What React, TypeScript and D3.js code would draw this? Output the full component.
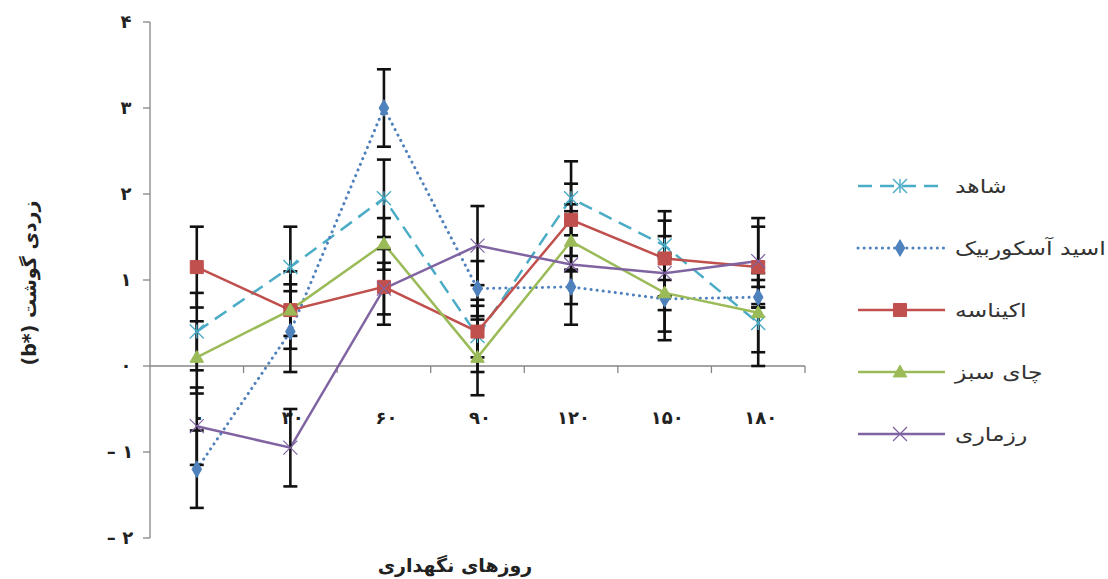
import React from "react";
import * as d3 from "d3";

const days = ["۰", "۳۰", "۶۰", "۹۰", "۱۲۰", "۱۵۰", "۱۸۰"];
const yTicks = [-2, -1, 0, 1, 2, 3, 4];
const yTickLabels = ["– ۲", "– ۱", "۰", "۱", "۲", "۳", "۴"];

const control = [0.4, 1.15, 1.95, 0.35, 1.95, 1.4, 0.5];
const controlErr = [0.45, 0.47, 0.45, 0.42, 0.43, 0.4, 0.5];
const ascorbic = [-1.2, 0.4, 3.0, 0.9, 0.92, 0.78, 0.8];
const ascorbicErr = [0.45, 0.47, 0.45, 0.32, 0.2, 0.48, 0.12];
const echinacea = [1.15, 0.65, 0.92, 0.4, 1.7, 1.25, 1.15];
const echinaceaErr = [0.47, 0.45, 0.44, 0.3, 0.42, 0.44, 0.47];
const greenTea = [0.1, 0.65, 1.42, 0.1, 1.45, 0.85, 0.62];
const greenTeaErr = [0.42, 0.3, 0.3, 0.44, 0.35, 0.45, 0.46];
const rosemary = [-0.7, -0.95, 0.9, 1.4, 1.18, 1.08, 1.22];
const rosemaryErr = [0.45, 0.45, 0.3, 0.46, 0.7, 0.43, 0.5];

const seriesNames = ["شاهد", "اسید آسکوربیک", "اکیناسه", "چای سبز", "رزماری"];

const series = [
  { name: seriesNames[0], values: control, err: controlErr, color: "#4BACC6", dash: "14 8", marker: "asterisk" },
  { name: seriesNames[1], values: ascorbic, err: ascorbicErr, color: "#4F81BD", dash: "0.1 6", marker: "diamond" },
  { name: seriesNames[2], values: echinacea, err: echinaceaErr, color: "#C0504D", dash: null, marker: "square" },
  { name: seriesNames[3], values: greenTea, err: greenTeaErr, color: "#9BBB59", dash: null, marker: "triangle" },
  { name: seriesNames[4], values: rosemary, err: rosemaryErr, color: "#8064A2", dash: null, marker: "x" },
];

const font = "'DejaVu Sans', sans-serif";

function Marker({ type, x, y, color }) {
  if (type === "square") {
    return <path d={d3.symbol(d3.symbolSquare, 170)()} transform={`translate(${x},${y})`} fill={color} stroke={color} />;
  }
  if (type === "diamond") {
    return <path d={d3.symbol(d3.symbolDiamond, 80)()} transform={`translate(${x},${y})`} fill={color} stroke={color} />;
  }
  if (type === "triangle") {
    return <path d={d3.symbol(d3.symbolTriangle, 80)()} transform={`translate(${x},${y + 1})`} fill={color} stroke={color} />;
  }
  if (type === "x") {
    const r = 7;
    return (
      <g stroke={color} strokeWidth={1.2}>
        <line x1={x - r} y1={y - r} x2={x + r} y2={y + r} />
        <line x1={x - r} y1={y + r} x2={x + r} y2={y - r} />
      </g>
    );
  }
  const r = 7;
  return (
    <g stroke={color} strokeWidth={1.4}>
      <line x1={x - r} y1={y - r} x2={x + r} y2={y + r} />
      <line x1={x - r} y1={y + r} x2={x + r} y2={y - r} />
      <line x1={x} y1={y - r} x2={x} y2={y + r} />
    </g>
  );
}

export default function App() {
  const width = 1108,
    height = 579;
  const x = d3.scaleBand().domain(days).range([150, 805]);
  const y = d3.scaleLinear().domain([-2, 4]).range([538, 22]);
  const cx = (d) => x(d) + x.bandwidth() / 2;

  const line = d3
    .line()
    .x((d, i) => cx(days[i]))
    .y((d) => y(d));

  const capW = 7;

  return (
    <svg width={width} height={height} style={{ position: "absolute", left: 0, top: 0, background: "#fff" }}>
      {/* y axis */}
      <line x1={150} x2={150} y1={y(4)} y2={y(-2)} stroke="#868686" strokeWidth={1.3} />
      {yTicks.map((t, i) => (
        <g key={t}>
          <line x1={143} x2={150} y1={y(t)} y2={y(t)} stroke="#868686" strokeWidth={1.3} />
          <text x={t < 0 ? 120 : 126} y={y(t)} dy="0.35em" textAnchor="middle" fontFamily={font} fontWeight="bold" fontSize={18} fill="#222">
            {yTickLabels[i]}
          </text>
        </g>
      ))}
      {/* x axis at zero */}
      <line x1={150} x2={805} y1={y(0)} y2={y(0)} stroke="#868686" strokeWidth={1.3} />
      {days.map((d) => (
        <line key={d} x1={x(d) + x.bandwidth()} x2={x(d) + x.bandwidth()} y1={y(0)} y2={y(0) + 7} stroke="#868686" strokeWidth={1.3} />
      ))}
      {days.map((d) => (
        <text key={d} x={cx(d) + 2.5} y={y(0) + 58} textAnchor="middle" fontFamily={font} fontWeight="bold" fontSize={18} letterSpacing={5} fill="#222">
          {d}
        </text>
      ))}

      {/* lines */}
      {series.map((s) => (
        <path
          key={s.name}
          d={line(s.values)}
          fill="none"
          stroke={s.color}
          strokeWidth={s.marker === "diamond" ? 3 : 2.5}
          strokeDasharray={s.dash || undefined}
          strokeLinecap={s.marker === "diamond" ? "round" : "butt"}
        />
      ))}

      {/* error bars */}
      {series.map((s) =>
        s.values.map((v, i) => {
          const px = cx(days[i]);
          const top = y(v + s.err[i]);
          const bot = y(v - s.err[i]);
          return (
            <g key={s.name + i} stroke="#111" strokeWidth={2.6}>
              <line x1={px} x2={px} y1={top} y2={bot} />
              <line x1={px - capW} x2={px + capW} y1={top} y2={top} />
              <line x1={px - capW} x2={px + capW} y1={bot} y2={bot} />
            </g>
          );
        })
      )}

      {/* markers */}
      {series.map((s) =>
        s.values.map((v, i) => <Marker key={s.name + "m" + i} type={s.marker} x={cx(days[i])} y={y(v)} color={s.color} />)
      )}

      {/* legend */}
      {series.map((s, i) => {
        const ly = 186 + i * 62;
        return (
          <g key={"lg" + s.name}>
            <line
              x1={858}
              x2={945}
              y1={ly}
              y2={ly}
              stroke={s.color}
              strokeWidth={s.marker === "diamond" ? 3 : 2.5}
              strokeDasharray={s.dash || undefined}
              strokeLinecap={s.marker === "diamond" ? "round" : "butt"}
            />
            <Marker type={s.marker} x={900} y={ly} color={s.color} />
            <text
              transform={`translate(955,${ly}) scale(1.24,1)`}
              dy="0.35em"
              fontFamily={font}
              fontSize={19}
              fill="#333"
            >
              {s.name}
            </text>
          </g>
        );
      })}

      {/* axis titles */}
      <text
        transform={`translate(36,${283}) rotate(-90)`}
        textAnchor="middle"
        fontFamily={font}
        fontWeight="bold"
        fontSize={19}
        fill="#222"
      >
        {"(b*) زردی گوشت"}
      </text>
      <text x={455} y={572} textAnchor="middle" fontFamily={font} fontWeight="bold" fontSize={19} fill="#222">
        روزهای نگهداری
      </text>
    </svg>
  );
}
